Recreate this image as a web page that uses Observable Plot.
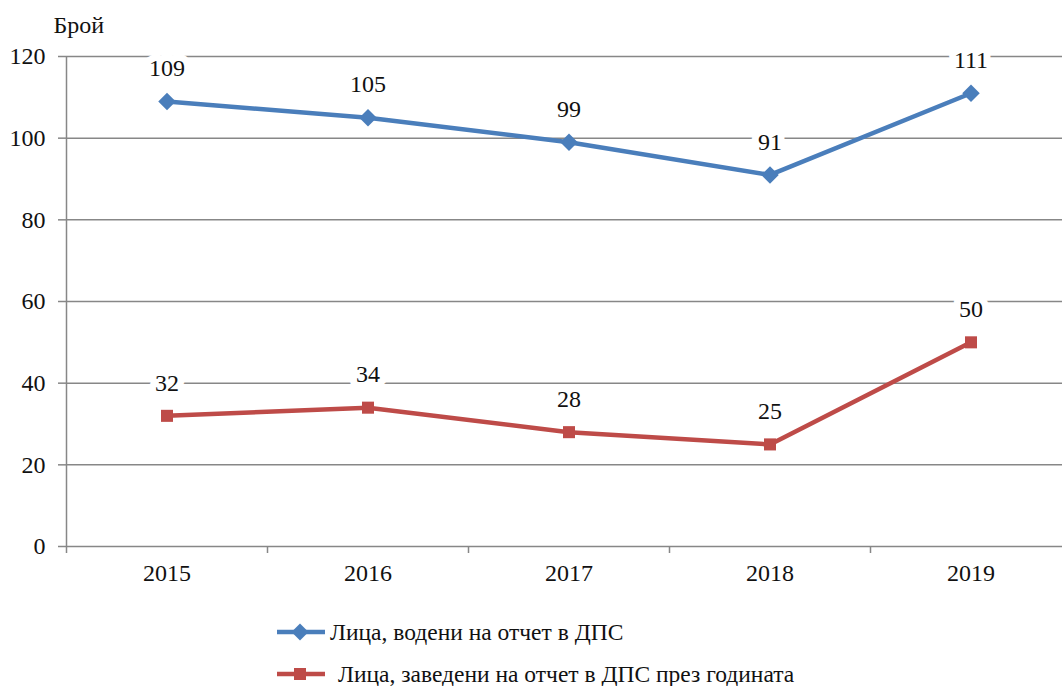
<!DOCTYPE html>
<html><head><meta charset="utf-8">
<script src="https://cdn.jsdelivr.net/npm/d3@7"></script>
<script src="https://cdn.jsdelivr.net/npm/@observablehq/plot@0.6"></script>
<style>
body{margin:0;background:#fff;overflow:hidden;font-family:'Liberation Serif','Times New Roman',serif;}
#legend{position:relative;height:86px;font-family:'Liberation Serif','Times New Roman',serif;}
.item{position:absolute;left:276px;height:26px;display:flex;align-items:center;font-size:23.5px;color:#111;font-family:'Liberation Serif','Times New Roman',serif;}
</style></head><body>
<div id="chart"></div>
<div id="legend"></div>
<script>
const years = [2015, 2016, 2017, 2018, 2019];
const seriesNames = ["Лица, водени на отчет в ДПС", "Лица, заведени на отчет в ДПС през годината"];
const valuesA = [109, 105, 99, 91, 111];
const valuesB = [32, 34, 28, 25, 50];
const yTicks = [0, 20, 40, 60, 80, 100, 120];
const colors = ["#4a7ebb", "#be4b48"];
const yLabel = "Брой";

const dataA = years.map((y, i) => ({year: y, value: valuesA[i]}));
const dataB = years.map((y, i) => ({year: y, value: valuesB[i]}));
const bounds = [years[0] - 0.5, ...years.map(y => y + 0.5)];
const gray = "#878787";
const font = "'Liberation Serif', 'Times New Roman', serif";

const plot = Plot.plot({
  width: 1062, height: 600,
  marginLeft: 66, marginRight: 0, marginTop: 56, marginBottom: 54,
  style: {fontFamily: font, fontSize: "24px", color: "#111", background: "#fff"},
  x: {type: "linear", domain: [years[0] - 0.5, years[years.length - 1] + 0.5], range: [66, 1071]},
  y: {domain: [0, 120], ticks: yTicks},
  marks: [
    Plot.ruleY(yTicks, {stroke: gray, strokeWidth: 1.5}),
    Plot.ruleX([bounds[0]], {stroke: gray, strokeWidth: 1.5}),
    Plot.axisY({ticks: yTicks, tickSize: 8, stroke: gray, strokeWidth: 1.5, tickPadding: 13, fontSize: 24, fill: "#111", label: null, fontFamily: font}),
    Plot.axisX({ticks: bounds, tickFormat: () => "", tickSize: 7, stroke: gray, strokeWidth: 1.5, label: null}),
    Plot.axisX({ticks: years, tickFormat: d => String(d), tickSize: 0, tickPadding: 17, fontSize: 24, fill: "#111", label: null, fontFamily: font}),
    Plot.line(dataA, {x: "year", y: "value", stroke: colors[0], strokeWidth: 4.5}),
    Plot.line(dataB, {x: "year", y: "value", stroke: colors[1], strokeWidth: 4.5}),
    Plot.dot(dataA, {x: "year", y: "value", symbol: "square", r: 7, rotate: 45, fill: colors[0], stroke: "none"}),
    Plot.dot(dataB, {x: "year", y: "value", symbol: "square", r: 6.8, fill: colors[1], stroke: "none"}),
    Plot.text(dataA, {x: "year", y: "value", text: d => String(d.value), dy: -33, fontSize: 24, fill: "#111", stroke: "white", strokeWidth: 14, fontFamily: font}),
    Plot.text(dataB, {x: "year", y: "value", text: d => String(d.value), dy: -33, fontSize: 24, fill: "#111", stroke: "white", strokeWidth: 14, fontFamily: font}),
    Plot.text([yLabel], {frameAnchor: "top-left", lineAnchor: "middle", dx: -13, dy: -31, text: d => d, fontSize: 24, fill: "#111", textAnchor: "start", fontFamily: font})
  ]
});
document.getElementById("chart").appendChild(plot);

const legend = document.getElementById("legend");
const centers = [32, 74];
seriesNames.forEach((name, i) => {
  const div = document.createElement("div");
  div.className = "item";
  div.style.top = (centers[i] - 13) + "px";
  const marker = i === 0
    ? `<rect x="18" y="3" width="12" height="12" fill="${colors[0]}" transform="rotate(45 24 9)"/>`
    : `<rect x="18" y="3" width="12" height="12" fill="${colors[1]}"/>`;
  div.innerHTML = `<svg width="50" height="18" style="margin-right:${i === 0 ? 4 : 12}px"><line x1="1" x2="49" y1="9" y2="9" stroke="${colors[i]}" stroke-width="4.5"/>${marker}</svg><span>${name}</span>`;
  legend.appendChild(div);
});
</script>
</body></html>
